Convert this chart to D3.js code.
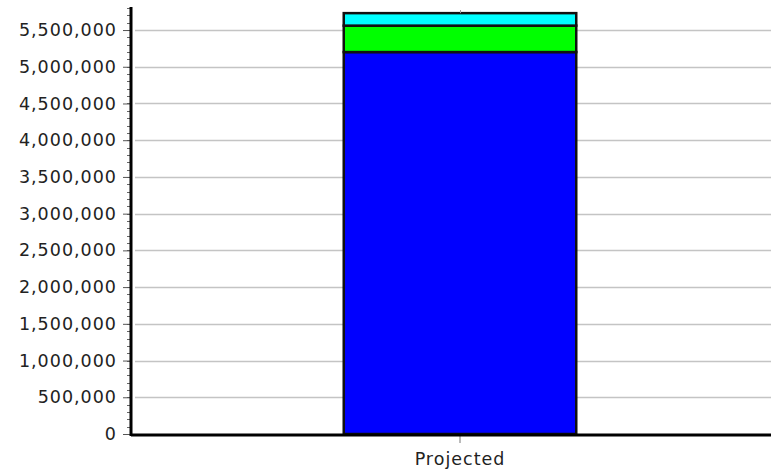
<!DOCTYPE html>
<html>
<head>
<meta charset="utf-8">
<script src="https://cdn.jsdelivr.net/npm/d3@7"></script>
<style>
  html, body { margin: 0; padding: 0; background: #fff; }
  svg { display: block; }
  .tick-label { font-family: "DejaVu Sans", Verdana, sans-serif; font-size: 17.5px; fill: #222; letter-spacing: 1px; }
</style>
</head>
<body>
<svg id="chart" width="771" height="474"></svg>
<script>
const categories = ["Projected"];
const seriesNames = ["Base", "Growth", "Other"];
const seriesColors = ["#0000ff", "#00ff00", "#00ffff"];
const seriesValues = [
  [5200000],
  [360000],
  [170000],
];
const yTicks = [0, 500000, 1000000, 1500000, 2000000, 2500000, 3000000, 3500000, 4000000, 4500000, 5000000, 5500000];

const width = 771, height = 474;
const margin = { left: 131, right: -18, top: 8, bottom: 40 };
const svg = d3.select("#chart");

const x = d3.scaleBand().domain(categories).range([margin.left, width - margin.right]).paddingInner(0).paddingOuter(0.915);
const y = d3.scaleLinear().domain([0, 5800000]).range([height - margin.bottom, margin.top]);

// gridlines
svg.append("g")
  .selectAll("line")
  .data(yTicks.filter((d) => d > 0))
  .join("line")
  .attr("x1", margin.left + 4)
  .attr("x2", width)
  .attr("y1", (d) => Math.round(y(d)) + 0.5)
  .attr("y2", (d) => Math.round(y(d)) + 0.5)
  .attr("stroke", "#c4c4c4")
  .attr("stroke-width", 1.3);

// stacked bars
const rows = categories.map((c, i) => {
  const row = { category: c };
  seriesNames.forEach((s, j) => (row[s] = seriesValues[j][i]));
  return row;
});
const stack = d3.stack().keys(seriesNames)(rows);

svg.append("g")
  .selectAll("g")
  .data(stack)
  .join("g")
  .attr("fill", (d, i) => seriesColors[i])
  .selectAll("rect")
  .data((d) => d)
  .join("rect")
  .attr("x", (d) => x(d.data.category))
  .attr("width", x.bandwidth())
  .attr("y", (d) => y(d[1]))
  .attr("height", (d) => y(d[0]) - y(d[1]))
  .attr("stroke", "#111")
  .attr("stroke-width", 2.5);

// minor ticks on y axis
const minorTicks = d3.range(0, 5800001, 100000);
svg.append("g")
  .selectAll("line")
  .data(minorTicks)
  .join("line")
  .attr("x1", margin.left - 4)
  .attr("x2", margin.left)
  .attr("y1", (d) => Math.round(y(d)) + 0.5)
  .attr("y2", (d) => Math.round(y(d)) + 0.5)
  .attr("stroke", "#666")
  .attr("stroke-width", 1);

// y axis
const yAxis = svg.append("g")
  .attr("transform", `translate(${margin.left},0)`)
  .call(d3.axisLeft(y).tickValues(yTicks).tickSize(8).tickPadding(6).tickFormat(d3.format(",")))
  .attr("font-family", null).attr("font-size", null);
yAxis.select(".domain").remove();
yAxis.selectAll(".tick line").attr("stroke", "#555");
yAxis.selectAll(".tick text").attr("class", "tick-label");

svg.append("line")
  .attr("x1", margin.left).attr("x2", margin.left)
  .attr("y1", margin.top - 1).attr("y2", y(0) + 2)
  .attr("stroke", "#000").attr("stroke-width", 3);

// x axis
const xAxis = svg.append("g")
  .attr("transform", `translate(0,${y(0) + 1})`)
  .call(d3.axisBottom(x).tickSize(8).tickPadding(10))
  .attr("font-family", null).attr("font-size", null);
xAxis.select(".domain").remove();
xAxis.selectAll(".tick line").attr("stroke", "#777");
xAxis.selectAll(".tick text").attr("class", "tick-label");

svg.append("line")
  .attr("x1", margin.left).attr("x2", width)
  .attr("y1", y(0) + 1).attr("y2", y(0) + 1)
  .attr("stroke", "#000").attr("stroke-width", 3);

// small tick above the bar
svg.append("g")
  .selectAll("line")
  .data(categories)
  .join("line")
  .attr("x1", (d) => x(d) + x.bandwidth() / 2 + 0.5)
  .attr("x2", (d) => x(d) + x.bandwidth() / 2 + 0.5)
  .attr("y1", margin.top + 2)
  .attr("y2", y(d3.sum(seriesValues, (s) => s[0])))
  .attr("stroke", "#999");
</script>
</body>
</html>
